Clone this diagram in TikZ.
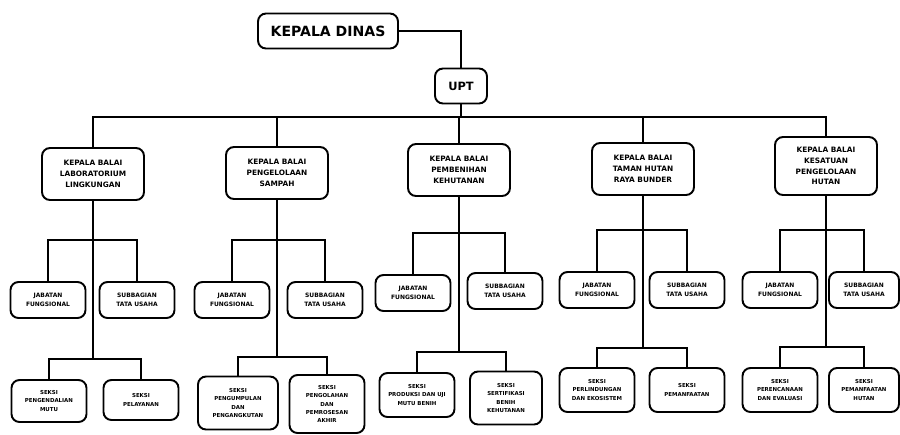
\documentclass[tikz,border=0pt]{standalone}
\usepackage{fontspec}
\setmainfont{DejaVu Sans}
\begin{document}
\begin{tikzpicture}[x=0.02cm,y=-0.02cm,
  box/.style={draw,line width=1.1pt,rounded corners=0.16cm,align=center,inner sep=1pt,font=\bfseries},
  balai/.style={box,minimum width=2.04cm,minimum height=1.04cm,font=\bfseries\fontsize{4.2}{6.2}\selectfont},
  bagian/.style={box,minimum width=1.5cm,minimum height=0.72cm,font=\bfseries\fontsize{3.4}{5.4}\selectfont},
  seksi/.style={box,minimum width=1.5cm,minimum height=0.84cm,font=\bfseries\fontsize{3.1}{4.8}\selectfont},
  garis/.style={line width=1.1pt}]
\useasboundingbox (0,0) rectangle (900,434);

\node[box,minimum width=2.8cm,minimum height=0.7cm,font=\bfseries\fontsize{8}{10}\selectfont] (dinas) at (328,31) {KEPALA DINAS};
\node[box,minimum width=1.04cm,minimum height=0.7cm,font=\bfseries\fontsize{6.5}{8}\selectfont] (upt) at (461,86) {UPT};

\node[balai] (b1) at (93,174) {KEPALA BALAI\\LABORATORIUM\\LINGKUNGAN};
\node[balai] (b2) at (277,173) {KEPALA BALAI\\PENGELOLAAN\\SAMPAH};
\node[balai] (b3) at (459,170) {KEPALA BALAI\\PEMBENIHAN\\KEHUTANAN};
\node[balai] (b4) at (643,169) {KEPALA BALAI\\TAMAN HUTAN\\RAYA BUNDER};
\node[balai,minimum height=1.16cm] (b5) at (826,166) {KEPALA BALAI\\KESATUAN\\PENGELOLAAN\\HUTAN};

\node[bagian] (j1) at (48,300) {JABATAN\\FUNGSIONAL};
\node[bagian] (s1) at (137,300) {SUBBAGIAN\\TATA USAHA};
\node[bagian] (j2) at (232,300) {JABATAN\\FUNGSIONAL};
\node[bagian] (s2) at (325,300) {SUBBAGIAN\\TATA USAHA};
\node[bagian] (j3) at (413,293) {JABATAN\\FUNGSIONAL};
\node[bagian] (s3) at (505,291) {SUBBAGIAN\\TATA USAHA};
\node[bagian] (j4) at (597,290) {JABATAN\\FUNGSIONAL};
\node[bagian] (s4) at (687,290) {SUBBAGIAN\\TATA USAHA};
\node[bagian] (j5) at (780,290) {JABATAN\\FUNGSIONAL};
\node[bagian,minimum width=1.4cm] (s5) at (864,290) {SUBBAGIAN\\TATA USAHA};

\node[seksi] (k1) at (49,401) {SEKSI\\PENGENDALIAN\\MUTU};
\node[seksi,minimum height=0.8cm] (p1) at (141,400) {SEKSI\\PELAYANAN};
\node[seksi,minimum width=1.6cm,minimum height=1.06cm] (k2) at (238,403) {SEKSI\\PENGUMPULAN\\DAN\\PENGANGKUTAN};
\node[seksi,minimum height=1.16cm] (p2) at (327,404) {SEKSI\\PENGOLAHAN\\DAN\\PEMROSESAN\\AKHIR};
\node[seksi,minimum height=0.88cm] (k3) at (417,395) {SEKSI\\PRODUKSI DAN UJI\\MUTU BENIH};
\node[seksi,minimum width=1.44cm,minimum height=1.06cm] (p3) at (506,398) {SEKSI\\SERTIFIKASI\\BENIH\\KEHUTANAN};
\node[seksi,minimum height=0.88cm] (k4) at (597,390) {SEKSI\\PERLINDUNGAN\\DAN EKOSISTEM};
\node[seksi,minimum height=0.88cm] (p4) at (687,390) {SEKSI\\PEMANFAATAN};
\node[seksi,minimum height=0.88cm] (k5) at (780,390) {SEKSI\\PERENCANAAN\\DAN EVALUASI};
\node[seksi,minimum width=1.4cm,minimum height=0.88cm] (p5) at (864,390) {SEKSI\\PEMANFAATAN\\HUTAN};

\coordinate (bar) at (461,117);
\coordinate (u1) at (93,240);
\coordinate (u2) at (277,240);
\coordinate (u3) at (459,233);
\coordinate (u4) at (643,230);
\coordinate (u5) at (826,230);
\coordinate (d1) at (93,359);
\coordinate (d2) at (277,357);
\coordinate (d3) at (459,352);
\coordinate (d4) at (643,348);
\coordinate (d5) at (826,347);

\draw[garis] (dinas.east) -| (upt.north);
\draw[garis] (upt.south) -- (bar);
\draw[garis] (b1.north) |- (bar) -| (b5.north);
\draw[garis] (b2.north) -- (b2.north |- bar);
\draw[garis] (b3.north) -- (b3.north |- bar);
\draw[garis] (b4.north) -- (b4.north |- bar);

\draw[garis] (b1.south) -- (d1);
\draw[garis] (b2.south) -- (d2);
\draw[garis] (b3.south) -- (d3);
\draw[garis] (b4.south) -- (d4);
\draw[garis] (b5.south) -- (d5);

\draw[garis] (j1.north) |- (u1) -| (s1.north);
\draw[garis] (j2.north) |- (u2) -| (s2.north);
\draw[garis] (j3.north) |- (u3) -| (s3.north);
\draw[garis] (j4.north) |- (u4) -| (s4.north);
\draw[garis] (j5.north) |- (u5) -| (s5.north);

\draw[garis] (k1.north) |- (d1) -| (p1.north);
\draw[garis] (k2.north) |- (d2) -| (p2.north);
\draw[garis] (k3.north) |- (d3) -| (p3.north);
\draw[garis] (k4.north) |- (d4) -| (p4.north);
\draw[garis] (k5.north) |- (d5) -| (p5.north);
\end{tikzpicture}
\end{document}
